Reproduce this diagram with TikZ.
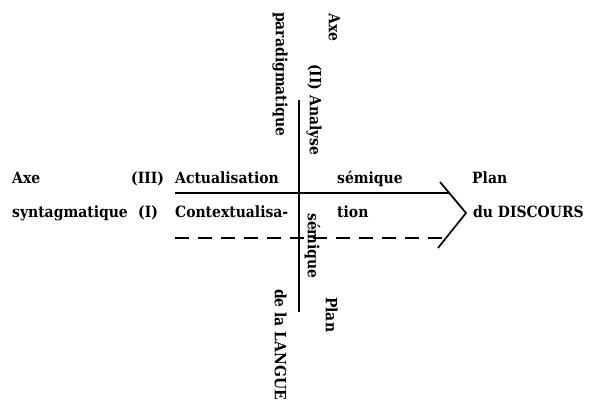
\documentclass[tikz,border=0pt]{standalone}
\usepackage{fontspec}
\newfontfamily\diagfont{DejaVu Serif Condensed}[UprightFont=* Bold]
\begin{document}
\begin{tikzpicture}[x=1pt,y=-1pt,
  lbl/.style={inner sep=0pt,font=\diagfont\fontsize{15.5}{18}\selectfont},
  hl/.style={lbl,anchor=base west},
  vl/.style={lbl,anchor=mid west,rotate=-90},
  axis/.style={line width=1.7pt},
  dashaxis/.style={line width=1.7pt,dash pattern=on 14pt off 9pt}]
\useasboundingbox (0,0) rectangle (591,406);
% coordinates
\coordinate (vt) at (299,100);
\coordinate (vb) at (299,312);
\coordinate (sl) at (175,193);
\coordinate (sr) at (449,193);
\coordinate (dl) at (175,238);
\coordinate (dr) at (446,238);
\coordinate (at) at (440,182);
\coordinate (tip) at (466,213);
\coordinate (ab) at (438,248);
% lines
\draw[axis] (vt) -- (vb);
\draw[axis] (sl) -- (sr);
\draw[dashaxis] (dl) -- (dr);
\draw[axis,line join=miter] (at) -- (tip) -- (ab);
% vertical texts
\node[vl] (axev) at (331,13) {Axe};
\node[vl] (parad) at (278,12) {paradigmatique};
\node[vl] (analyse) at (312,64) {(II) Analyse};
\node[vl] (semv) at (310,213) {sémique};
\node[vl] (planl) at (328,297) {Plan};
\node[vl] (langue) at (277,289) {de la LANGUE};
% horizontal texts
\node[hl] (axeh) at (12,183) {Axe};
\node[hl] (iii) at (131,183) {(III)};
\node[hl] (actu) at (175,183) {Actualisation};
\node[hl] (synt) at (12,217) {syntagmatique};
\node[hl] (i) at (138,217) {(I)};
\node[hl] (cont) at (175,217) {Contextualisa-};
\node[hl] (semh) at (337,183) {sémique};
\node[hl] (tion) at (337,217) {tion};
\node[hl] (pland) at (472,183) {Plan};
\node[hl] (disc) at (473,217) {du DISCOURS};
\end{tikzpicture}
\end{document}
